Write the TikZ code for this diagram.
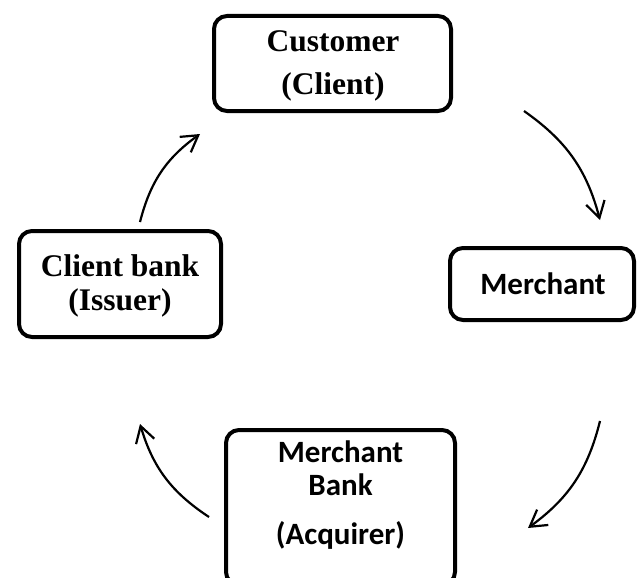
\documentclass[tikz,border=0pt]{standalone}
\usepackage{fontspec}
\setmainfont{Liberation Serif}
\newfontfamily\calib{Carlito}
\usetikzlibrary{arrows.meta}
\begin{document}
\begin{tikzpicture}[x=1pt,y=-1pt,
  box/.style={draw, line width=4pt, rounded corners=13pt, inner sep=0pt},
  serif/.style={inner sep=0pt, align=center, font=\fontsize{31.5}{43}\selectfont\bfseries},
  sans/.style={inner sep=0pt, align=center, font=\calib\fontsize{31}{33}\selectfont\bfseries},
  flow/.style={line width=2.2pt, -{Straight Barb[length=16pt,width=19pt]}}]
\useasboundingbox (0,0) rectangle (637,578);

\node[box, minimum width=237pt, minimum height=95pt] (cust) at (332.5,63.5) {};
\node[serif] (custt) at (333,66) {Customer\\(Client)};

\node[box, minimum width=202pt, minimum height=106pt] (cb) at (120,284) {};
\node[serif, font=\fontsize{31.5}{34}\selectfont\bfseries] (cbt) at (120,286) {Client bank\\(Issuer)};

\node[box, minimum width=184pt, minimum height=72pt] (mer) at (542,284) {};
\node[sans] (mert) at (543,284) {Merchant};

\node[box, minimum width=229pt, minimum height=155pt] (mb) at (340.5,507.5) {};
\node[sans] (mbt) at (340.5,495) {Merchant\\Bank\\[16pt](Acquirer)};

\coordinate (a1s) at (140,222);
\coordinate (a1e) at (200,134);
\coordinate (a2s) at (524,111);
\coordinate (a2e) at (600,220);
\coordinate (a3s) at (600,421);
\coordinate (a3e) at (528,528);
\coordinate (a4s) at (209,517);
\coordinate (a4e) at (140,424);

\draw[flow] (a1s) to[bend left=20] (a1e);
\draw[flow] (a2s) to[bend left=20] (a2e);
\draw[flow] (a3s) to[bend left=20] (a3e);
\draw[flow] (a4s) to[bend left=20] (a4e);
\end{tikzpicture}
\end{document}
